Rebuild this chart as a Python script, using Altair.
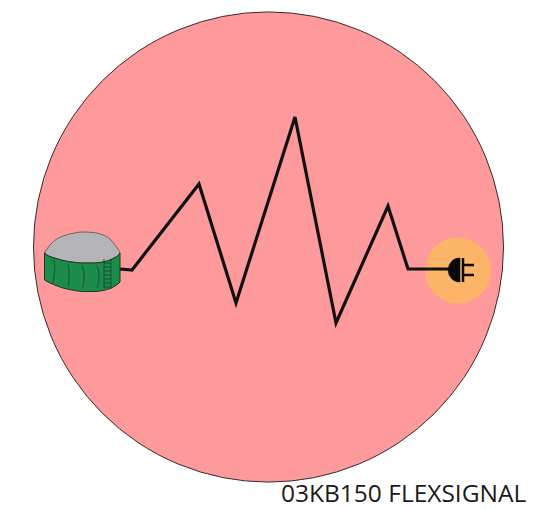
import altair as alt
import pandas as pd

big_x, big_y, big_r = [268.5], [247], 235
sun_x, sun_y, sun_r = [458], [270.5], 33

signal_x = [120, 132, 199, 236, 295, 336, 388, 408, 450]
signal_y = [269, 270, 184, 303, 117, 323, 206, 269, 269]

dome_x = [44.5, 47, 50, 56, 63, 72, 83, 93, 103, 110, 115, 118, 120]
dome_top = [253, 249, 245, 239.5, 236, 233.5, 232, 232.5, 235, 239, 245, 249, 253]
dome_bot = [253, 255, 256.5, 258.5, 260.5, 262, 263, 263, 262, 260, 257.5, 255.5, 253]

body_x = dome_x
body_top = dome_bot
body_bot = [280, 281.5, 283, 285.5, 288, 290, 291.5, 291.5, 290.5, 288.5, 286, 284, 282]

seams = {
    "a": ([54, 55, 54, 53], [260, 269, 277, 283]),
    "b": ([67, 69, 69, 68], [263, 271, 279, 286]),
    "c": ([81, 84, 84, 82], [265, 272, 280, 288]),
    "d": ([96, 99, 99, 97], [265, 272, 280, 288]),
}
ladder_left, ladder_right = [104], [111]
ladder_top, ladder_bottom = 259, 289
rungs_y = [263, 267, 271, 275, 279, 283, 287]

head_x = [448, 449, 450.5, 452.5, 455, 457.5, 460]
head_top = [270, 265.5, 263, 260.5, 259, 258.2, 258]
head_bot = [270, 274.5, 277, 279.5, 281, 281.8, 282]

bar_x, bar_top, bar_bot = [463], [258], [282]
prong_x, prong_x2 = [463], [474]
prong_y = [265, 275]

label = ["03KB150 FLEXSIGNAL"]
label_x, label_y = [281], [502]

W, H = 519, 501
X = alt.Scale(domain=[8, 8 + W], range=[0, W])
Y = alt.Scale(domain=[8, 8 + H], range=[0, H])


def xe(name="x"):
    return alt.X(f"{name}:Q", scale=X, axis=None)


def ye(name="y"):
    return alt.Y(f"{name}:Q", scale=Y, axis=None)


def circle(x, y, r, fill, stroke=None):
    kw = dict(stroke=stroke, strokeWidth=1) if stroke else dict(strokeWidth=0)
    return alt.Chart(pd.DataFrame({"x": x, "y": y})).mark_point(
        shape="circle", filled=True, fill=fill, opacity=1, size=4 * r * r, **kw
    ).encode(x=xe(), y=ye())


def area(x, y, y2, fill, stroke="#2b2b2b", sw=1.0):
    df = pd.DataFrame({"x": x, "y": y, "y2": y2})
    return alt.Chart(df).mark_area(
        interpolate="monotone", fill=fill, opacity=1, stroke=stroke, strokeWidth=sw
    ).encode(x=xe(), y=ye(), y2="y2:Q")


layers = [
    circle(big_x, big_y, big_r, "#FF9A9C", "#3a2a2a"),
    circle(sun_x, sun_y, sun_r, "#FBB468"),
    alt.Chart(pd.DataFrame({"x": signal_x, "y": signal_y, "o": range(len(signal_x))}))
    .mark_line(color="#111111", strokeWidth=3.2, strokeJoin="miter")
    .encode(x=xe(), y=ye(), order="o:Q"),
    area(dome_x, dome_top, dome_bot, "#B4B4B6", "#5a4a4a", 0.8),
    area(body_x, body_top, body_bot, "#1C8C4A", "#163a22", 1.0),
]
for sx, sy in seams.values():
    layers.append(
        alt.Chart(pd.DataFrame({"x": sx, "y": sy, "o": range(len(sx))}))
        .mark_line(color="#14432a", strokeWidth=0.8, interpolate="monotone")
        .encode(x=xe(), y=ye(), order="o:Q")
    )
layers.append(
    alt.Chart(pd.DataFrame({"x": ladder_left * 2 + ladder_right * 2,
                            "y": [ladder_top, ladder_bottom] * 2,
                            "g": ["l", "l", "r", "r"]}))
    .mark_line(color="#14432a", strokeWidth=0.8)
    .encode(x=xe(), y=ye(), detail="g:N")
)
layers.append(
    alt.Chart(pd.DataFrame({"x": ladder_left * len(rungs_y),
                            "x2": ladder_right * len(rungs_y), "y": rungs_y}))
    .mark_rule(color="#14432a", strokeWidth=0.8)
    .encode(x=xe(), x2="x2:Q", y=ye())
)
layers.append(area(head_x, head_top, head_bot, "#0a0a0a", "#0a0a0a", 0.5))
layers.append(
    alt.Chart(pd.DataFrame({"x": bar_x, "y": bar_top, "y2": bar_bot}))
    .mark_rule(color="#0a0a0a", strokeWidth=2.5)
    .encode(x=xe(), y=ye(), y2="y2:Q")
)
layers.append(
    alt.Chart(pd.DataFrame({"x": prong_x * 2, "x2": prong_x2 * 2, "y": prong_y}))
    .mark_rule(color="#0a0a0a", strokeWidth=2.5)
    .encode(x=xe(), x2="x2:Q", y=ye())
)
layers.append(
    alt.Chart(pd.DataFrame({"x": label_x, "y": label_y, "t": label}))
    .mark_text(font="Open Sans", fontSize=24.5, align="left", baseline="alphabetic", color="#1a1a1a")
    .encode(x=xe(), y=ye(), text="t:N")
)

chart = (
    alt.layer(*layers)
    .properties(width=W, height=H, padding=0, background="white",
                autosize=alt.AutoSizeParams(type="pad"))
    .configure_view(stroke=None)
)

chart.save("out.html", embed_options={"renderer": "svg", "actions": False})
